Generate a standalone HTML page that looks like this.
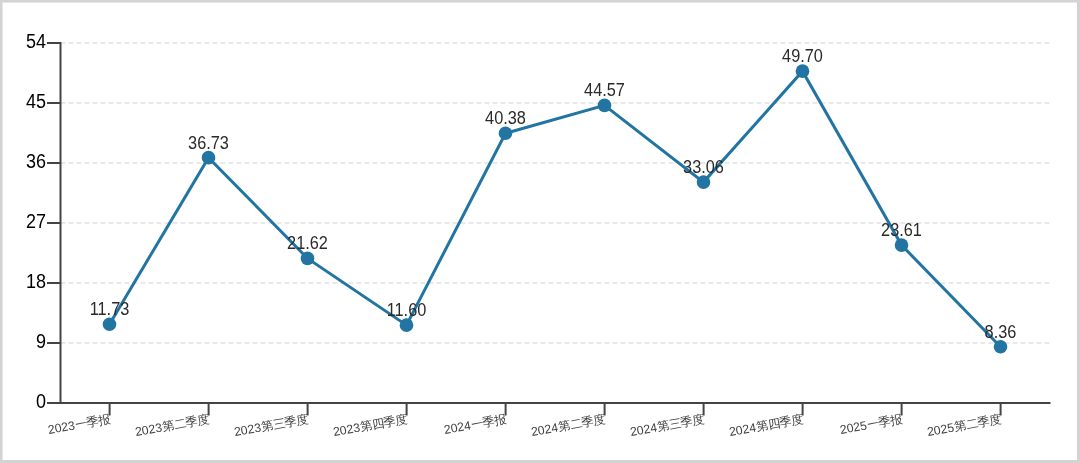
<!DOCTYPE html>
<html><head><meta charset="utf-8"><style>
html,body{margin:0;padding:0;background:#fff;}
body{width:1080px;height:463px;overflow:hidden;}
.frame{position:absolute;left:0;top:0;width:1075px;height:458px;border-left:2px solid #d3d3d3;border-top:2px solid #d3d3d3;border-right:3px solid #d3d3d3;border-bottom:3px solid #d3d3d3;background:#fff;box-shadow:inset 1px 1px 0 #e6e6e6;}
svg{position:absolute;left:0;top:0;filter:blur(0.3px);}
text{font-family:"Liberation Sans",sans-serif;}
</style></head><body>
<div class="frame"></div>
<svg width="1080" height="463" viewBox="0 0 1080 463">
<line x1="60.4" x2="1050.4" y1="343.0" y2="343.0" stroke="#d4d4d4" stroke-width="1.2" stroke-dasharray="5,3"/>
<line x1="60.4" x2="1050.4" y1="283.0" y2="283.0" stroke="#d4d4d4" stroke-width="1.2" stroke-dasharray="5,3"/>
<line x1="60.4" x2="1050.4" y1="223.0" y2="223.0" stroke="#d4d4d4" stroke-width="1.2" stroke-dasharray="5,3"/>
<line x1="60.4" x2="1050.4" y1="163.0" y2="163.0" stroke="#d4d4d4" stroke-width="1.2" stroke-dasharray="5,3"/>
<line x1="60.4" x2="1050.4" y1="103.0" y2="103.0" stroke="#d4d4d4" stroke-width="1.2" stroke-dasharray="5,3"/>
<line x1="60.4" x2="1050.4" y1="43.0" y2="43.0" stroke="#d4d4d4" stroke-width="1.2" stroke-dasharray="5,3"/>
<line x1="60.5" x2="60.5" y1="42.0" y2="403.5" stroke="#444" stroke-width="2"/>
<line x1="47" x2="60.5" y1="403.0" y2="403.0" stroke="#444" stroke-width="2"/>
<text transform="translate(46,408.1) scale(1,1.11)" text-anchor="end" font-size="18" fill="#000">0</text>
<line x1="47" x2="60.5" y1="343.0" y2="343.0" stroke="#444" stroke-width="2"/>
<text transform="translate(46,348.1) scale(1,1.11)" text-anchor="end" font-size="18" fill="#000">9</text>
<line x1="47" x2="60.5" y1="283.0" y2="283.0" stroke="#444" stroke-width="2"/>
<text transform="translate(46,288.1) scale(1,1.11)" text-anchor="end" font-size="18" fill="#000">18</text>
<line x1="47" x2="60.5" y1="223.0" y2="223.0" stroke="#444" stroke-width="2"/>
<text transform="translate(46,228.1) scale(1,1.11)" text-anchor="end" font-size="18" fill="#000">27</text>
<line x1="47" x2="60.5" y1="163.0" y2="163.0" stroke="#444" stroke-width="2"/>
<text transform="translate(46,168.1) scale(1,1.11)" text-anchor="end" font-size="18" fill="#000">36</text>
<line x1="47" x2="60.5" y1="103.0" y2="103.0" stroke="#444" stroke-width="2"/>
<text transform="translate(46,108.1) scale(1,1.11)" text-anchor="end" font-size="18" fill="#000">45</text>
<line x1="47" x2="60.5" y1="43.0" y2="43.0" stroke="#444" stroke-width="2"/>
<text transform="translate(46,48.1) scale(1,1.11)" text-anchor="end" font-size="18" fill="#000">54</text>
<line x1="60" x2="1050.5" y1="403.0" y2="403.0" stroke="#444" stroke-width="2"/>
<line x1="109.6" x2="109.6" y1="402.5" y2="415.5" stroke="#444" stroke-width="2"/>
<text transform="translate(111.0,423.0) rotate(-10)" text-anchor="end" font-size="12.25" fill="#404040">2023一季报</text>
<line x1="208.6" x2="208.6" y1="402.5" y2="415.5" stroke="#444" stroke-width="2"/>
<text transform="translate(210.0,423.0) rotate(-10)" text-anchor="end" font-size="12.25" fill="#404040">2023第二季度</text>
<line x1="307.6" x2="307.6" y1="402.5" y2="415.5" stroke="#444" stroke-width="2"/>
<text transform="translate(309.0,423.0) rotate(-10)" text-anchor="end" font-size="12.25" fill="#404040">2023第三季度</text>
<line x1="406.6" x2="406.6" y1="402.5" y2="415.5" stroke="#444" stroke-width="2"/>
<text transform="translate(408.0,423.0) rotate(-10)" text-anchor="end" font-size="12.25" fill="#404040">2023第四季度</text>
<line x1="505.6" x2="505.6" y1="402.5" y2="415.5" stroke="#444" stroke-width="2"/>
<text transform="translate(507.0,423.0) rotate(-10)" text-anchor="end" font-size="12.25" fill="#404040">2024一季报</text>
<line x1="604.6" x2="604.6" y1="402.5" y2="415.5" stroke="#444" stroke-width="2"/>
<text transform="translate(606.0,423.0) rotate(-10)" text-anchor="end" font-size="12.25" fill="#404040">2024第二季度</text>
<line x1="703.6" x2="703.6" y1="402.5" y2="415.5" stroke="#444" stroke-width="2"/>
<text transform="translate(705.0,423.0) rotate(-10)" text-anchor="end" font-size="12.25" fill="#404040">2024第三季度</text>
<line x1="802.6" x2="802.6" y1="402.5" y2="415.5" stroke="#444" stroke-width="2"/>
<text transform="translate(804.0,423.0) rotate(-10)" text-anchor="end" font-size="12.25" fill="#404040">2024第四季度</text>
<line x1="901.6" x2="901.6" y1="402.5" y2="415.5" stroke="#444" stroke-width="2"/>
<text transform="translate(903.0,423.0) rotate(-10)" text-anchor="end" font-size="12.25" fill="#404040">2025一季报</text>
<line x1="1000.6" x2="1000.6" y1="402.5" y2="415.5" stroke="#444" stroke-width="2"/>
<text transform="translate(1002.0,423.0) rotate(-10)" text-anchor="end" font-size="12.25" fill="#404040">2025第二季度</text>
<path d="M109.50,324.30 L208.50,157.63 L307.50,258.37 L406.50,325.17 L505.50,133.30 L604.50,105.37 L703.50,182.10 L802.50,71.17 L901.50,245.10 L1000.50,346.77" fill="none" stroke="#2275a2" stroke-width="3"/>
<circle cx="109.50" cy="324.30" r="6.8" fill="#2275a2"/>
<circle cx="208.50" cy="157.63" r="6.8" fill="#2275a2"/>
<circle cx="307.50" cy="258.37" r="6.8" fill="#2275a2"/>
<circle cx="406.50" cy="325.17" r="6.8" fill="#2275a2"/>
<circle cx="505.50" cy="133.30" r="6.8" fill="#2275a2"/>
<circle cx="604.50" cy="105.37" r="6.8" fill="#2275a2"/>
<circle cx="703.50" cy="182.10" r="6.8" fill="#2275a2"/>
<circle cx="802.50" cy="71.17" r="6.8" fill="#2275a2"/>
<circle cx="901.50" cy="245.10" r="6.8" fill="#2275a2"/>
<circle cx="1000.50" cy="346.77" r="6.8" fill="#2275a2"/>
<text transform="translate(109.50,315.30) scale(1.02,1.12)" text-anchor="middle" font-size="16" fill="#2a2a2a">11.73</text>
<text transform="translate(208.50,148.63) scale(1.02,1.12)" text-anchor="middle" font-size="16" fill="#2a2a2a">36.73</text>
<text transform="translate(307.50,249.37) scale(1.02,1.12)" text-anchor="middle" font-size="16" fill="#2a2a2a">21.62</text>
<text transform="translate(406.50,316.17) scale(1.02,1.12)" text-anchor="middle" font-size="16" fill="#2a2a2a">11.60</text>
<text transform="translate(505.50,124.30) scale(1.02,1.12)" text-anchor="middle" font-size="16" fill="#2a2a2a">40.38</text>
<text transform="translate(604.50,96.37) scale(1.02,1.12)" text-anchor="middle" font-size="16" fill="#2a2a2a">44.57</text>
<text transform="translate(703.50,173.10) scale(1.02,1.12)" text-anchor="middle" font-size="16" fill="#2a2a2a">33.06</text>
<text transform="translate(802.50,62.17) scale(1.02,1.12)" text-anchor="middle" font-size="16" fill="#2a2a2a">49.70</text>
<text transform="translate(901.50,236.10) scale(1.02,1.12)" text-anchor="middle" font-size="16" fill="#2a2a2a">23.61</text>
<text transform="translate(1000.50,337.77) scale(1.02,1.12)" text-anchor="middle" font-size="16" fill="#2a2a2a">8.36</text>
</svg>
</body></html>
